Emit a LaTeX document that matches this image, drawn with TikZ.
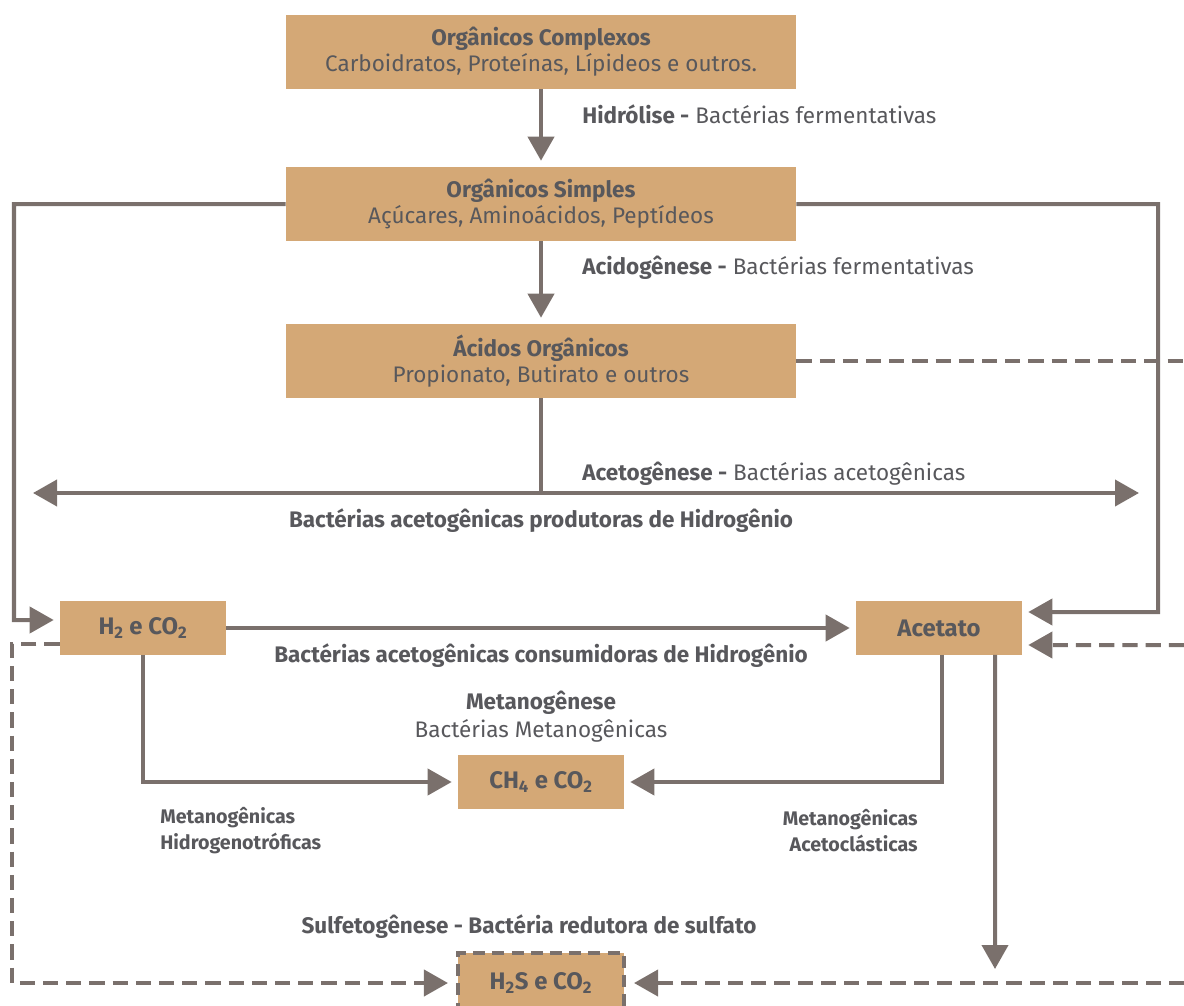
\documentclass[tikz,border=0pt]{standalone}
\usepackage{fontspec}
\setmainfont{Fira Sans}
\usetikzlibrary{arrows.meta}
\definecolor{caixa}{RGB}{212,168,118}
\definecolor{linha}{RGB}{122,112,108}
\definecolor{texto}{RGB}{88,88,92}
\begin{document}
\begin{tikzpicture}[
  x=0.025cm, y=-0.025cm,
  every node/.style={text=texto, font=\fontsize{16}{18.5}\selectfont, inner sep=0pt},
  grande/.style={fill=caixa, minimum width=12.75cm, minimum height=1.85cm, align=center},
  pequena/.style={fill=caixa, minimum width=4.15cm, minimum height=1.33cm, font=\fontsize{17}{19}\selectfont\bfseries},
  rotulo/.style={anchor=west},
  negrito/.style={font=\fontsize{16}{18.5}\selectfont\bfseries},
  miudo/.style={font=\fontsize{14}{18.4}\selectfont\bfseries},
  fio/.style={draw=linha, line width=0.1cm},
  seta/.style={fio, -{Triangle[length=0.6cm,width=0.65cm]}, shorten >=0.15cm},
  tracejado/.style={fio, dash pattern=on 0.38cm off 0.2cm}
]
\useasboundingbox (0,0) rectangle (1184,1006);

\node[grande] (complexos) at (541,52) {\textbf{Orgânicos Complexos}\\Carboidratos, Proteínas, Lípideos e outros.};
\node[grande] (simples) at (541,204) {\textbf{Orgânicos Simples}\\Açúcares, Aminoácidos, Peptídeos};
\node[grande] (acidos) at (541,361) {\textbf{Ácidos Orgânicos}\\Propionato, Butirato e outros};
\node[pequena] (h2) at (143,628) {H\textsubscript{2} e CO\textsubscript{2}};
\node[pequena] (acetato) at (939,628) {Acetato};
\node[pequena] (ch4) at (541,782) {CH\textsubscript{4} e CO\textsubscript{2}};
\node[pequena, minimum height=1.5cm, draw=linha, line width=0.1cm, dash pattern=on 0.3cm off 0.18cm] (h2s) at (541,983) {H\textsubscript{2}S e CO\textsubscript{2}};

\node[rotulo] (lhid) at (582,114) {\textbf{Hidrólise -} Bactérias fermentativas};
\node[rotulo] (lacid) at (582,268) {\textbf{Acidogênese -} Bactérias fermentativas};
\node[rotulo] (lacet) at (582,474) {\textbf{Acetogênese -} Bactérias acetogênicas};
\node[negrito] (lprod) at (541,521) {Bactérias acetogênicas produtoras de Hidrogênio};
\node[negrito] (lcons) at (541,656) {Bactérias acetogênicas consumidoras de Hidrogênio};
\node[align=center, font=\fontsize{16}{20}\selectfont] (lmet) at (541,717) {\textbf{Metanogênese}\\Bactérias Metanogênicas};
\node[miudo, align=left, anchor=west] (lhidro) at (160,831) {Metanogênicas\\Hidrogenotróficas};
\node[miudo, align=right, anchor=east] (lacetoc) at (918,831) {Metanogênicas\\Acetoclásticas};
\node[negrito] (lsulf) at (529,927) {Sulfetogênese - Bactéria redutora de sulfato};

\coordinate (esq) at (27,493);
\coordinate (dir) at (1145,493);
\coordinate (meio) at (541,493);
\coordinate (fundo) at (995,975);

\draw[seta] (complexos) -- (simples);
\draw[seta] (simples) -- (acidos);
\draw[fio] (acidos) -- (meio);
\draw[seta] (meio) -- (dir);
\draw[seta] (meio) -- (esq);
\draw[seta] (simples.west) -| (14,620) -- ([yshift=0.2cm]h2.west);
\draw[seta] (simples.east) -| (1158,612) -- ([yshift=0.4cm]acetato.east);
\draw[seta] (h2) -- (acetato);
\draw[seta] (h2.south) |- (ch4.west);
\draw[seta] ([xshift=0.075cm]acetato.south) |- (ch4.east);
\draw[seta] ([xshift=1.4cm]acetato.south) -- (fundo);

\draw[tracejado] (acidos.east) -- (1184,361);
\draw[tracejado, -{Triangle[length=0.6cm,width=0.65cm]}, shorten >=0.15cm] (1184,645) -- ([yshift=-0.425cm]acetato.east);
\draw[tracejado, -{Triangle[length=0.6cm,width=0.65cm]}, shorten >=0.2cm] ([yshift=-0.4cm]h2.west) -| (12,983) -- (h2s.west);
\draw[tracejado, -{Triangle[length=0.6cm,width=0.65cm]}, shorten >=0.2cm] (1184,983) -- (h2s.east);
\end{tikzpicture}
\end{document}
